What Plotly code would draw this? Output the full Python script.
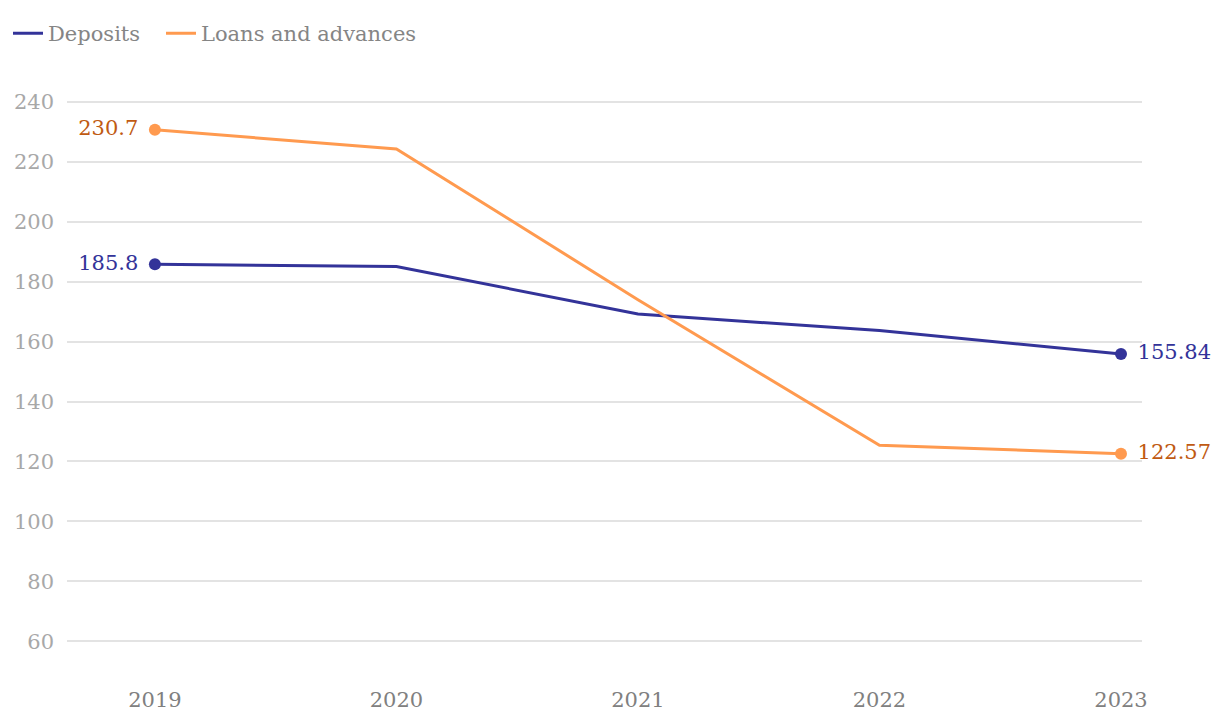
import plotly.graph_objects as go

years = ["2019", "2020", "2021", "2022", "2023"]
deposits = [185.8, 185.1, 169.2, 163.7, 155.84]
loans = [230.7, 224.3, 174.0, 125.4, 122.57]
y_ticks = [60, 80, 100, 120, 140, 160, 180, 200, 220, 240]

FONT = "DejaVu Serif"
FS = 21
BLUE = "#333399"
ORANGE = "#ff9a4f"
ORANGE_TXT = "#c05a12"

fig = go.Figure()
fig.add_trace(go.Scatter(x=years, y=deposits, name="Deposits", mode="lines",
                         line=dict(color=BLUE, width=3), legendwidth=108))
fig.add_trace(go.Scatter(x=years, y=loans, name="Loans and advances", mode="lines",
                         line=dict(color=ORANGE, width=3)))

ends = [0, len(years) - 1]
for vals, col, tcol in [(deposits, BLUE, BLUE), (loans, ORANGE, ORANGE_TXT)]:
    ex = [years[i] for i in ends]
    ey = [vals[i] for i in ends]
    # label carrier (transparent marker sets text offset)
    fig.add_trace(go.Scatter(
        x=ex, y=ey, mode="markers+text", showlegend=False, cliponaxis=False,
        hoverinfo="skip",
        marker=dict(color="rgba(0,0,0,0)", size=25),
        text=[f"{v:g}" for v in ey],
        textposition=["middle left", "middle right"],
        textfont=dict(family=FONT, size=FS, color=tcol),
    ))
    fig.add_trace(go.Scatter(
        x=ex, y=ey, mode="markers", showlegend=False, cliponaxis=False,
        marker=dict(color=col, size=12),
    ))

fig.update_layout(
    width=1220, height=728,
    margin=dict(l=59, r=86, t=73, b=64),
    plot_bgcolor="white", paper_bgcolor="white",
    font=dict(family=FONT, size=FS, color="#808080"),
    legend=dict(orientation="h", x=-0.0055, y=0.993, xref="container", yref="container",
                xanchor="left", yanchor="top",
                font=dict(family=FONT, size=FS, color="#858585"),
                itemwidth=30),
    showlegend=True,
)
fig.update_xaxes(type="category", range=[-0.364, 4.087], showgrid=False,
                 zeroline=False, showline=False, ticks="", automargin=False,
                 ticklabelstandoff=13,
                 tickfont=dict(family=FONT, size=FS, color="#808080"))
fig.update_yaxes(range=[49.7, 247], tickvals=y_ticks, showgrid=True,
                 gridcolor="#e3e3e3", gridwidth=1.5, zeroline=False, automargin=False,
                 showline=False, ticks="", ticklabelstandoff=12,
                 tickfont=dict(family=FONT, size=FS, color="#a8a8a8"))

fig.write_html("out.html")
